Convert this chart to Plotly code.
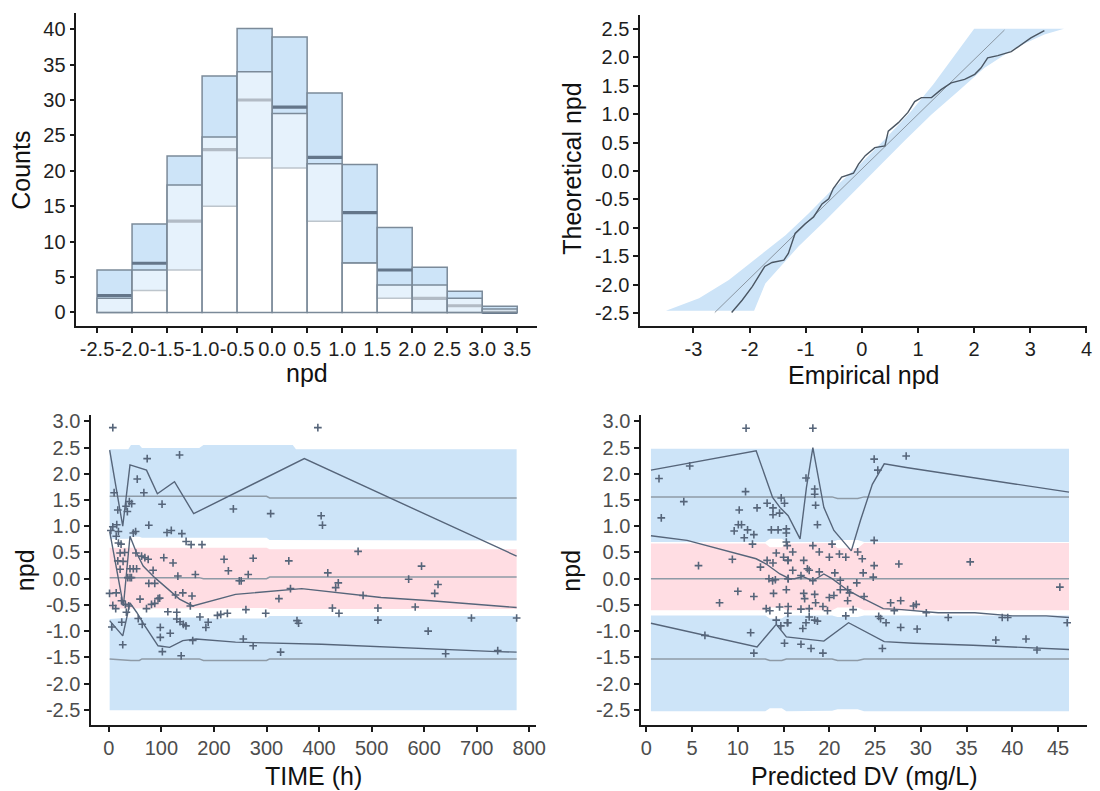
import plotly.graph_objects as go

# ---------------- histogram of npd (observed vs simulated PI) ----------------
hist_centers = [-2.25, -1.75, -1.25, -0.75, -0.25, 0.25, 0.75, 1.25, 1.75, 2.25, 2.75, 3.25]
hist_obs = [2.0, 6.0, 18.0, 24.8, 34.0, 28.1, 21.0, 7.0, 3.9, 3.9, 2.0, 0.5]
hist_low = [0.0, 3.1, 6.0, 15.0, 21.8, 20.4, 12.9, 7.0, 2.0, 0.0, 0.0, 0.0]
hist_med = [2.4, 6.95, 12.9, 23.0, 30.0, 29.0, 21.9, 14.1, 6.0, 2.0, 0.95, 0.0]
hist_up = [6.0, 12.5, 22.1, 33.4, 40.1, 38.9, 31.0, 20.9, 12.0, 6.4, 3.0, 0.9]
hist_ticks = [-2.5, -2.0, -1.5, -1.0, -0.5, 0.0, 0.5, 1.0, 1.5, 2.0, 2.5, 3.0, 3.5]
count_ticks = [0, 5, 10, 15, 20, 25, 30, 35, 40]

# ---------------- QQ plot ----------------
qq_left_theo = [-2.46, -2.24, -1.92, -1.48, -1.13, -0.75, -0.34, 0.09, 0.56, 1.055, 1.52, 1.99, 2.50]
qq_left_emp = [-3.49, -2.90, -2.37, -1.81, -1.36, -0.95, -0.54, -0.06, 0.41, 0.88, 1.27, 1.62, 2.00]
qq_right_theo = [2.50, 2.40, 2.16, 1.81, 1.40, 0.995, 0.53, 0.06, -0.40, -0.87, -1.33, -1.77, -1.98, -2.46]
qq_right_emp = [3.60, 3.25, 2.72, 2.18, 1.71, 1.24, 0.76, 0.29, -0.18, -0.65, -1.13, -1.54, -1.72, -1.92]
qq_ref_emp = [-2.62, 2.54]
qq_ref_theo = [-2.49, 2.48]
qq_obs_emp = [-2.32, -2.13, -1.95, -1.81, -1.73, -1.60, -1.39, -1.31, -1.19, -1.01, -0.86, -0.71,
              -0.59, -0.51, -0.36, -0.15, -0.06, 0.06, 0.23, 0.41, 0.47, 0.65, 0.82, 0.94, 1.06,
              1.24, 1.41, 1.59, 1.83, 2.01, 2.12, 2.24, 2.42, 2.66, 2.83, 3.01, 3.25]
qq_obs_theo = [-2.49, -2.27, -2.03, -1.80, -1.68, -1.61, -1.57, -1.45, -1.10, -0.93, -0.81, -0.58,
               -0.49, -0.31, -0.11, -0.04, 0.12, 0.27, 0.41, 0.44, 0.70, 0.85, 1.03, 1.22, 1.29,
               1.29, 1.43, 1.55, 1.61, 1.70, 1.81, 1.99, 2.03, 2.10, 2.22, 2.34, 2.47]
qq_xticks = [-3, -2, -1, 0, 1, 2, 3, 4]
npd_ticks_top = [-2.5, -2.0, -1.5, -1.0, -0.5, 0.0, 0.5, 1.0, 1.5, 2.0, 2.5]

# ---------------- npd vs TIME ----------------
t_grid = [1.5, 37, 42, 58, 63, 172, 180, 300, 306, 350, 356, 776]
t_ub_hi = [2.47, 2.47, 2.55, 2.55, 2.49, 2.49, 2.55, 2.55, 2.55, 2.55, 2.47, 2.47]
t_ub_lo = [0.76, 0.76, 0.80, 0.80, 0.78, 0.78, 0.78, 0.78, 0.74, 0.74, 0.73, 0.73]
t_pk_hi = [0.59, 0.59, 0.59, 0.59, 0.59, 0.59, 0.59, 0.59, 0.56, 0.56, 0.56, 0.56]
t_pk_lo = [-0.57, -0.57, -0.57, -0.57, -0.57, -0.57, -0.56, -0.56, -0.58, -0.58, -0.58, -0.58]
t_lb_hi = [-0.77, -0.74, -0.74, -0.74, -0.74, -0.74, -0.76, -0.76, -0.71, -0.71, -0.71, -0.71]
t_lb_lo = [-2.51, -2.51, -2.51, -2.51, -2.51, -2.51, -2.51, -2.51, -2.51, -2.51, -2.51, -2.51]
t_md_hi = [1.57, 1.57, 1.57, 1.57, 1.57, 1.57, 1.57, 1.57, 1.54, 1.54, 1.54, 1.54]
t_md_mid = [0.02, 0.02, 0.02, 0.02, 0.02, 0.02, 0.00, 0.00, 0.03, 0.03, 0.03, 0.03]
t_md_lo = [-1.53, -1.56, -1.56, -1.56, -1.53, -1.53, -1.56, -1.56, -1.53, -1.53, -1.53, -1.53]

t_up_x = [1.5, 26.4, 40.2, 59.3, 71.6, 92.3, 124.9, 161.4, 372, 776]
t_up_y = [2.45, 1.0, 2.17, 2.10, 2.07, 1.62, 1.85, 1.24, 2.29, 0.43]
t_mid_x = [1.5, 27.6, 40.2, 52.8, 65.3, 87.3, 109.3, 134.4, 159.6, 241, 367, 424, 518, 613, 776]
t_mid_y = [0.90, -0.52, 0.81, 0.49, 0.24, 0.02, -0.17, -0.39, -0.52, -0.30, -0.19, -0.25, -0.36, -0.42, -0.55]
t_lo_x = [1.5, 26.4, 40.2, 52.8, 68.5, 93.6, 115.6, 140.7, 165.9, 241, 405, 537, 606, 738, 776]
t_lo_y = [-0.80, -1.09, -0.46, -0.64, -0.90, -1.28, -1.31, -1.18, -1.15, -1.21, -1.25, -1.31, -1.34, -1.39, -1.40]

time_pts = [7.5, 72.9, 134.5, 54, 10, 66.6, 101.2, 17, 32.6, 39, 43.4, 35.2, 3.8, 7.5, 15, 18.2, 14,
            76, 46.5, 50.9, 110.6, 118.8, 138.9, 147, 156.5, 177.2, 18.2, 23.2, 21.4, 17, 51.5, 62.2,
            68.5, 74.8, 104.5, 122.1, 84.2, 76, 87.3, 131.3, 164.6, 219.2, 227.4, 40.2, 46.5, 52.8,
            21.4, 40.2, 1.3, 13.9, 31.4, 37.7, 33.3, 59.3, 93.6, 96.7, 71.6, 81.1, 87.3, 126.8,
            140.7, 112.2, 129.2, 158.2, 173.3, 189, 184.6, 206.6, 212.9, 225.5, 7.5, 24.5, 5.6,
            26.4, 97.9, 97.9, 116.8, 63.5, 55.9, 101.8, 137.6, 129.2, 135.4, 141.7, 146.7, 159.6,
            13, 24, 27, 30, 36, 43, 155,
            397.7, 236.9, 307.9, 404, 406.5, 474.3, 274.6, 342.4, 265.2, 416.6, 248.2, 251.8,
            436.6, 431.6, 345.6, 323.6, 483.8, 260.8, 298.5, 358, 361, 425.4, 437.9, 512, 512,
            570.5, 595, 626.4, 620.1, 583, 607.6, 640.9, 690, 776, 740, 255.8, 274.6, 326.8]
time_npd = [2.88, 2.29, 2.36, 1.90, 1.64, 1.64, 1.42, 1.31, 1.38, 1.47, 1.43, 1.28, 0.92, 0.99, 1.03,
            0.90, 0.81, 1.02, 0.87, 0.90, 0.88, 0.92, 0.86, 0.71, 0.65, 0.65, 0.68, 0.66, 0.49, 0.34,
            0.49, 0.43, 0.40, 0.37, 0.40, 0.30, 0.16, -0.09, -0.09, 0.05, 0.08, 0.37, 0.15, 0.19,
            0.19, 0.19, 0.18, 0.02, -0.28, -0.27, -0.49, -0.52, -0.64, -0.39, -0.38, -0.37, -0.57,
            -0.49, -0.47, -0.31, -0.27, -0.63, -0.64, -0.33, -0.73, -0.83, -0.93, -0.70, -0.68,
            -0.66, -0.51, -0.83, -0.92, -1.26, -0.93, -1.12, -1.04, -0.87, -0.76, -1.39, -1.47,
            -0.77, -0.82, -0.87, -0.90, -1.18,
            -0.57, -0.42, 0.33, 0.50, 0.02, 0.02, -0.52,
            2.88, 1.33, 1.24, 1.20, 1.02, 0.52, 0.39, 0.34, 0.08, 0.11, -0.04, -0.04, -0.08, -0.17,
            -0.19, -0.38, -0.32, -0.59, -0.66, -0.80, -0.85, -0.56, -0.66, -0.56, -0.79, -0.01,
            0.24, -0.11, -0.28, -0.54, -1.00, -1.43, -0.75, -0.75, -1.37, -1.15, -1.28, -1.40]
time_ticks = [0, 100, 200, 300, 400, 500, 600, 700, 800]
npd_ticks_bottom = [-2.5, -2.0, -1.5, -1.0, -0.5, 0.0, 0.5, 1.0, 1.5, 2.0, 2.5, 3.0]

# ---------------- npd vs predicted DV ----------------
p_grid = [0.5, 13.0, 13.5, 14.8, 15.3, 20.3, 20.9, 23.1, 23.8, 46.2]
p_ub_hi = [2.48, 2.48, 2.48, 2.48, 2.48, 2.48, 2.48, 2.48, 2.48, 2.48]
p_ub_lo = [0.70, 0.70, 0.76, 0.76, 0.70, 0.70, 0.74, 0.74, 0.70, 0.70]
p_pk_hi = [0.67, 0.67, 0.60, 0.60, 0.67, 0.68, 0.58, 0.58, 0.68, 0.68]
p_pk_lo = [-0.60, -0.60, -0.55, -0.55, -0.60, -0.60, -0.55, -0.55, -0.60, -0.60]
p_lb_hi = [-0.70, -0.70, -0.76, -0.76, -0.70, -0.70, -0.73, -0.73, -0.70, -0.70]
p_lb_lo = [-2.53, -2.53, -2.47, -2.47, -2.53, -2.52, -2.49, -2.49, -2.53, -2.53]
p_md_hi = [1.56, 1.56, 1.56, 1.56, 1.56, 1.56, 1.53, 1.53, 1.56, 1.56]
p_md_mid = [0.0, 0.0, 0.0, 0.0, 0.0, 0.0, 0.0, 0.0, 0.0, 0.0]
p_md_lo = [-1.53, -1.53, -1.56, -1.56, -1.53, -1.53, -1.56, -1.56, -1.53, -1.53]

p_up_x = [0.5, 12.0, 13.8, 14.6, 15.5, 16.8, 17.5, 18.2, 19.4, 20.5, 22.4, 23.4, 24.7, 26.0, 28.4, 46.2]
p_up_y = [2.07, 2.44, 1.55, 1.36, 1.20, 0.76, 1.74, 2.50, 1.36, 0.92, 0.53, 1.11, 1.80, 2.19, 2.12, 1.65]
p_mid_x = [0.5, 4.45, 12.0, 13.1, 14.6, 15.65, 16.2, 17.1, 18.2, 19.4, 20.3, 22.0, 23.4, 25.9, 27.9,
           31.9, 35.9, 40.0, 43.7, 46.2]
p_mid_y = [0.82, 0.73, 0.38, 0.28, 0.09, 0.0, 0.0, 0.04, -0.04, 0.09, 0.0, -0.22, -0.35, -0.57, -0.59,
           -0.65, -0.65, -0.71, -0.71, -0.74]
p_lo_x = [0.5, 6.3, 12.1, 14.2, 15.3, 19.4, 22.1, 26.0, 29.2, 35.7, 42.7, 46.2]
p_lo_y = [-0.85, -1.08, -1.30, -0.87, -1.11, -1.19, -0.84, -1.20, -1.23, -1.27, -1.33, -1.35]

pred_pts = [10.9, 4.74, 1.38, 10.84, 4.09, 1.63, 10.15, 12.1, 13.2, 13.84, 13.84, 14.56, 14.74, 15.1,
            10.05, 10.4, 9.6, 11.06, 11.75, 10.7, 11.6, 13.66, 14.4, 15.3, 15.3, 15.3, 15.4, 14.2,
            15.0, 15.5, 9.4, 5.7, 13.2, 12.47, 13.84, 13.4, 13.8, 14.1, 15.5, 15.3, 13.9, 10.0,
            11.75, 8.0, 14.56, 15.5, 13.1, 13.5, 14.2, 14.7, 15.4, 11.4, 15.1, 11.75, 6.4,
            18.2, 24.9, 28.4, 25.3, 17.45, 18.4, 18.4, 18.5, 18.7, 24.9, 20.3, 18.2, 18.9, 21.1,
            21.8, 23.1, 20.0, 15.47, 16.0, 23.6, 17.2, 24.9, 27.6, 35.4, 17.6, 17.8, 16.0, 16.9,
            18.9, 20.6, 21.2, 23.7, 24.8, 23.0, 15.5, 18.2, 22.0, 22.2, 17.2, 18.4, 20.0, 20.5,
            21.2, 23.8, 22.0, 17.3, 18.5, 19.3, 19.8, 16.9, 17.8, 22.6, 26.7, 27.8, 29.2, 29.5,
            27.1, 30.6, 21.8, 25.4, 25.6, 26.2, 33.0, 38.9, 39.5, 46.0, 45.2, 17.8, 18.4, 18.7,
            17.45, 17.1, 27.8, 29.6, 16.9, 18.0, 19.3, 25.8, 38.2, 41.5, 42.7, 15.47, 15.47]
pred_npd = [2.87, 2.15, 1.91, 1.66, 1.47, 1.16, 1.31, 1.35, 1.44, 1.35, 1.22, 1.25, 1.54, 1.44,
            1.03, 1.03, 0.91, 0.93, 0.84, 0.78, 0.66, 0.93, 0.93, 0.95, 0.87, 0.70, 0.63, 0.49,
            0.41, 0.35, 0.37, 0.25, 0.35, 0.22, 0.30, 0.0, -0.04, -0.02, 0.0, -0.21, -0.28, -0.24,
            -0.34, -0.46, -0.54, -0.53, -0.57, -0.61, -0.79, -0.90, -0.84, -1.03, -1.23, -1.42, -1.08,
            2.87, 2.28, 2.34, 2.07, 1.92, 1.71, 1.61, 1.40, 1.03, 0.73, 0.66, 0.63, 0.51, 0.47,
            0.41, 0.51, 0.41, 0.35, 0.51, 0.38, 0.35, 0.25, 0.28, 0.32, 0.19, 0.16, 0.16, 0.06,
            0.13, 0.11, -0.03, 0.11, 0.03, -0.08, 0.0, -0.04, -0.21, -0.27, -0.28, -0.30, -0.36, -0.32,
            -0.21, -0.34, -0.42, -0.38, -0.46, -0.53, -0.61, -0.58, -0.57, -0.59, -0.46, -0.42, -0.52, -0.49,
            -0.61, -0.65, -0.71, -0.72, -0.76, -0.84, -0.74, -0.74, -0.74, -0.84, -0.16, -0.73, -0.79, -0.81,
            -0.84, -0.95, -0.93, -0.96, -1.25, -1.33, -1.42, -1.33, -1.17, -1.15, -1.36, -0.66, -0.84]
pred_ticks = [0, 5, 10, 15, 20, 25, 30, 35, 40, 45]

# ---------------- styling ----------------
BLUE = "#cde4f8"
PINK = "#ffdde3"
EDGE = "#7b8a99"
DARK = "#56657a"
MEDGRAY = "#8e9aa6"
FONT = "Liberation Sans, Arial, sans-serif"
TICKFONT_TOP = dict(family=FONT, size=20, color="#1e1e1e")
TICKFONT_BOT = dict(family=FONT, size=20, color="#4d4d4d")
TITLEFONT = dict(family=FONT, size=25, color="#111111")

fig = go.Figure()

# ---- histogram (x, y) ----
fig.add_trace(go.Bar(x=hist_centers, y=[u - l for u, l in zip(hist_up, hist_low)], base=hist_low,
                     width=0.5, marker=dict(color=BLUE, line=dict(color=EDGE, width=1.5)),
                     xaxis="x", yaxis="y"))
fig.add_trace(go.Bar(x=hist_centers, y=[0.45] * len(hist_med), base=[m - 0.22 for m in hist_med],
                     width=0.5, marker=dict(color="#64768a", line=dict(width=0)),
                     xaxis="x", yaxis="y"))
fig.add_trace(go.Bar(x=hist_centers, y=hist_obs, base=[0] * len(hist_obs), width=0.5,
                     marker=dict(color="rgba(255,255,255,0.5)", line=dict(color=EDGE, width=1.5)),
                     xaxis="x", yaxis="y"))

# ---- QQ plot (x2, y2) ----
fig.add_trace(go.Scatter(x=qq_left_emp + qq_right_emp, y=qq_left_theo + qq_right_theo,
                         fill="toself", fillcolor=BLUE, mode="lines", line=dict(width=0),
                         xaxis="x2", yaxis="y2"))
fig.add_trace(go.Scatter(x=qq_ref_emp, y=qq_ref_theo, mode="lines",
                         line=dict(color="#8a96a2", width=1), xaxis="x2", yaxis="y2"))
fig.add_trace(go.Scatter(x=qq_obs_emp, y=qq_obs_theo, mode="lines",
                         line=dict(color="#4a5663", width=1.4), xaxis="x2", yaxis="y2"))


def add_band(xs, hi, lo, color, xa, ya):
    fig.add_trace(go.Scatter(x=xs + xs[::-1], y=hi + lo[::-1], fill="toself", fillcolor=color,
                             mode="lines", line=dict(width=0), xaxis=xa, yaxis=ya))


def add_panel(grid, ub_hi, ub_lo, pk_hi, pk_lo, lb_hi, lb_lo, mds, lines, px, py, xa, ya):
    add_band(grid, ub_hi, ub_lo, BLUE, xa, ya)
    add_band(grid, pk_hi, pk_lo, PINK, xa, ya)
    add_band(grid, lb_hi, lb_lo, BLUE, xa, ya)
    for md in mds:
        fig.add_trace(go.Scatter(x=grid, y=md, mode="lines", line=dict(color=MEDGRAY, width=1.5),
                                 xaxis=xa, yaxis=ya))
    for lx, ly in lines:
        fig.add_trace(go.Scatter(x=lx, y=ly, mode="lines", line=dict(color=DARK, width=1.4),
                                 xaxis=xa, yaxis=ya))
    fig.add_trace(go.Scatter(x=px, y=py, mode="markers",
                             marker=dict(symbol="cross-thin", size=5.5, line=dict(color=DARK, width=1.6)),
                             xaxis=xa, yaxis=ya))


add_panel(t_grid, t_ub_hi, t_ub_lo, t_pk_hi, t_pk_lo, t_lb_hi, t_lb_lo,
          [t_md_hi, t_md_mid, t_md_lo],
          [(t_up_x, t_up_y), (t_mid_x, t_mid_y), (t_lo_x, t_lo_y)],
          time_pts, time_npd, "x3", "y3")
add_panel(p_grid, p_ub_hi, p_ub_lo, p_pk_hi, p_pk_lo, p_lb_hi, p_lb_lo,
          [p_md_hi, p_md_mid, p_md_lo],
          [(p_up_x, p_up_y), (p_mid_x, p_mid_y), (p_lo_x, p_lo_y)],
          pred_pts, pred_npd, "x4", "y4")


def axis(domain, rng, tickvals, ticktext, tickfont, anchor, standoff):
    return dict(domain=domain, range=rng, tickvals=tickvals, ticktext=ticktext, tickfont=tickfont,
                showline=True, linecolor="#1a1a1a", linewidth=1.5, ticks="outside", ticklen=5,
                tickwidth=1.5, tickcolor="#1a1a1a", showgrid=False, zeroline=False, tickangle=0,
                anchor=anchor, fixedrange=True, ticklabelstandoff=standoff)


def f1(v):
    return f"{v:.1f}"


H, W = 791.0, 1100.0
XS, YS = -1, 0
fig.update_layout(
    width=1100, height=791, margin=dict(l=0, r=0, t=0, b=0),
    paper_bgcolor="white", plot_bgcolor="white", showlegend=False, barmode="overlay",
    hovermode=False, font=dict(family=FONT),
    xaxis=axis([77 / W, 542 / W], [-2.796, 3.783], hist_ticks, [f1(v) for v in hist_ticks], TICKFONT_TOP, "y", XS),
    yaxis=axis([1 - 323 / H, 1 - 8 / H], [-1.9, 42.3], count_ticks, [str(v) for v in count_ticks], TICKFONT_TOP, "x", YS),
    xaxis2=axis([646 / W, 1097 / W], [-3.95, 4.01], qq_xticks, [str(v) for v in qq_xticks], TICKFONT_TOP, "y2", XS),
    yaxis2=axis([1 - 323 / H, 1 - 10 / H], [-2.727, 2.745], npd_ticks_top, [f1(v) for v in npd_ticks_top], TICKFONT_TOP, "x2", YS),
    xaxis3=axis([92 / W, 541 / W], [-33.7, 813], time_ticks, [str(v) for v in time_ticks], TICKFONT_BOT, "y3", XS),
    yaxis3=axis([1 - 725 / H, 1 - 413 / H], [-2.798, 3.114], npd_ticks_bottom, [f1(v) for v in npd_ticks_bottom], TICKFONT_BOT, "x3", YS),
    xaxis4=axis([647 / W, 1097 / W], [-0.574, 48.17], pred_ticks, [str(v) for v in pred_ticks], TICKFONT_BOT, "y4", XS),
    yaxis4=axis([1 - 725 / H, 1 - 413 / H], [-2.798, 3.114], npd_ticks_bottom, [f1(v) for v in npd_ticks_bottom], TICKFONT_BOT, "x4", YS),
)

titles = [
    ("Counts", 21, 166, -90),
    ("npd", 309.5, 370, 0),
    ("Theoretical npd", 577, 165, -90),
    ("Empirical npd", 871.5, 372, 0),
    ("npd", 26, 569, -90),
    ("TIME (h)", 316.5, 776, 0),
    ("npd", 576.5, 569, -90),
    ("Predicted DV (mg/L)", 872, 776, 0),
]
for text, px_, py_, ang in titles:
    fig.add_annotation(text=text, x=px_ / W, y=1 - py_ / H, xref="paper", yref="paper",
                       showarrow=False, textangle=ang, xanchor="center", yanchor="middle",
                       font=TITLEFONT)

fig.write_html("out.html")
